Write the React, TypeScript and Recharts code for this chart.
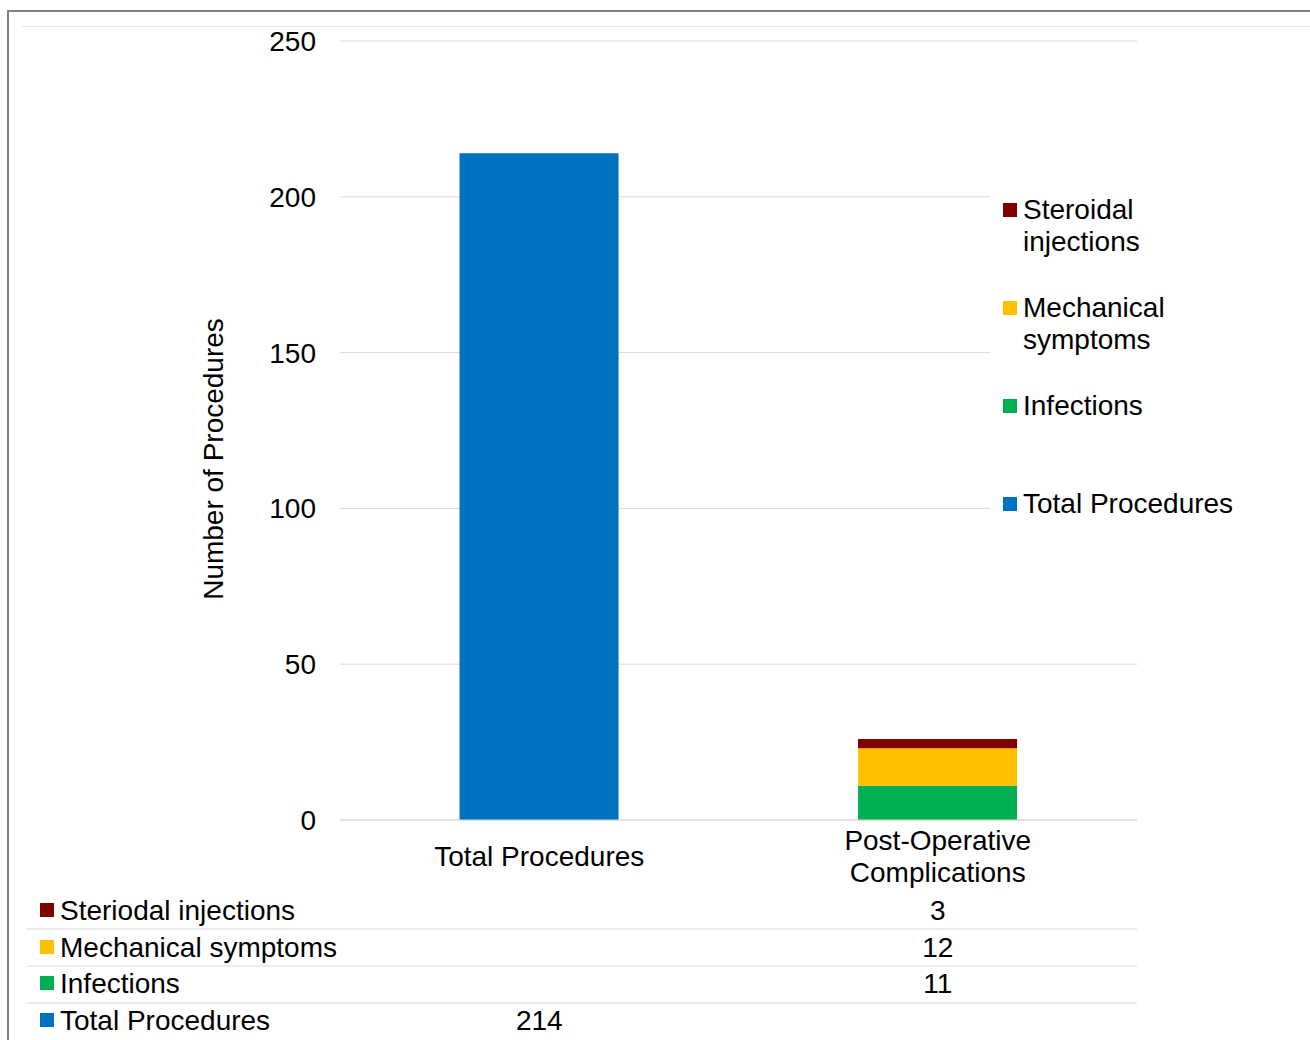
import React from 'react';
import { BarChart, Bar, XAxis, YAxis, CartesianGrid, Legend } from 'recharts';

const FONT = '"Liberation Sans", Arial, sans-serif';

const categories = ['Total Procedures', 'Post-Operative Complications'];
const totalProcedures = [214, null];
const infections = [null, 11];
const mechanical = [null, 12];
const steroidal = [null, 3];
const yTicks = [0, 50, 100, 150, 200, 250];

// stack order bottom -> top
const series = [
  { key: 'total', name: 'Total Procedures', color: '#0070C0', values: totalProcedures },
  { key: 'infections', name: 'Infections', color: '#00B050', values: infections },
  { key: 'mechanical', name: 'Mechanical symptoms', color: '#FFC000', values: mechanical },
  { key: 'steroidal', name: 'Steroidal injections', color: '#800000', values: steroidal },
];

// data table rows, top -> bottom (the table spells it "Steriodal")
const tableLabels = ['Steriodal injections', 'Mechanical symptoms', 'Infections', 'Total Procedures'];
const tableRows = [steroidal, mechanical, infections, totalProcedures];
const tableColors = ['#800000', '#FFC000', '#00B050', '#0070C0'];

const data = categories.map((name, i) => ({
  name,
  total: totalProcedures[i],
  infections: infections[i],
  mechanical: mechanical[i],
  steroidal: steroidal[i],
}));

const wrapLabel = (s: string) => {
  if (s.length <= 20) return [s];
  const cut = s.lastIndexOf(' ');
  return [s.slice(0, cut), s.slice(cut + 1)];
};

const rowBase = [100, 137, 173, 210];
const rowLines = [109, 146, 183];

const TableTick = (props: any) => {
  const { x, y, payload } = props;
  const i = categories.indexOf(payload.value);
  const lines = wrapLabel(payload.value);
  const start = lines.length === 1 ? 46 : 30;
  const txt = { fontFamily: FONT, fontSize: 28, fill: '#000' };
  return (
    <g>
      {lines.map((ln, k) => (
        <text key={'l' + k} x={x} y={y + start + k * 32} textAnchor="middle" {...txt}>{ln}</text>
      ))}
      {tableRows.map((vals, k) =>
        vals[i] == null ? null : (
          <text key={'v' + k} x={x} y={y + rowBase[k]} textAnchor="middle" {...txt}>{vals[i]}</text>
        )
      )}
      {i === 0 && (
        <g>
          {rowLines.map((d, k) => (
            <line key={'r' + k} x1={27} x2={1137} y1={y + d} y2={y + d} stroke="#D9D9D9" strokeWidth={1} />
          ))}
          {tableLabels.map((lab, k) => (
            <g key={'h' + k}>
              <rect x={40} y={y + rowBase[k] - 17} width={14} height={14} fill={tableColors[k]} />
              <text x={60} y={y + rowBase[k]} textAnchor="start" {...txt}>{lab}</text>
            </g>
          ))}
        </g>
      )}
    </g>
  );
};

const renderLegend = (props: any) => {
  const pl = props.payload || [];
  // top of the stack first, like the Excel legend
  const items = [...series].reverse().map((s) => {
    const hit = pl.find((p: any) => p.value === s.name);
    return { value: s.name, color: hit ? hit.color : s.color };
  });
  return (
    <div style={{ background: '#fff', paddingTop: 12, paddingLeft: 13, fontFamily: FONT, fontSize: 28, color: '#000' }}>
      {items.map((it) => (
        <div key={it.value} style={{ height: 98, display: 'flex', alignItems: 'flex-start' }}>
          <div style={{ width: 14, height: 14, background: it.color, marginTop: 9, marginRight: 6, flex: 'none' }} />
          <div style={{ width: 222, lineHeight: '32px' }}>{it.value}</div>
        </div>
      ))}
    </div>
  );
};

export default function App() {
  return (
    <div style={{ position: 'absolute', left: 0, top: 0, width: 1310, height: 1040, background: '#fff', overflow: 'hidden' }}>
      <div style={{ position: 'absolute', left: 7, top: 10, right: 0, bottom: 0, borderTop: '2px solid #7f7f7f', borderLeft: '2px solid #7f7f7f' }} />
      <div style={{ position: 'absolute', left: 22, top: 26, right: 0, height: 0, borderTop: '1px solid #e3e3e3' }} />
      <div style={{ position: 'absolute', left: 0, top: 0 }}>
        <BarChart
          width={1310}
          height={1040}
          data={data}
          margin={{ top: 41, right: 173, bottom: 0, left: 0 }}
          barCategoryGap="30%"
        >
          <CartesianGrid vertical={false} stroke="#D9D9D9" />
          <XAxis
            dataKey="name"
            height={220}
            interval={0}
            axisLine={{ stroke: '#D9D9D9' }}
            tickLine={false}
            tickSize={0}
            tickMargin={0}
            tick={<TableTick />}
          />
          <YAxis
            domain={[0, 250]}
            ticks={yTicks}
            width={340}
            axisLine={false}
            tickLine={false}
            tickSize={0}
            tickMargin={24}
            tick={{ fill: '#000', fontSize: 28, fontFamily: FONT }}
            label={{
              content: () => (
                <text
                  x={213}
                  y={459}
                  transform="rotate(-90 213 459)"
                  textAnchor="middle"
                  dominantBaseline="central"
                  fontFamily={FONT}
                  fontSize={28}
                  fill="#000"
                >
                  Number of Procedures
                </text>
              ),
            }}
          />
          <Legend
            layout="horizontal"
            align="center"
            verticalAlign="middle"
            content={renderLegend}
            wrapperStyle={{ position: 'absolute', left: 990, top: 182, width: 320 }}
          />
          {series.map((s) => (
            <Bar key={s.key} dataKey={s.key} name={s.name} stackId="a" fill={s.color} isAnimationActive={false} />
          ))}
        </BarChart>
      </div>
    </div>
  );
}
